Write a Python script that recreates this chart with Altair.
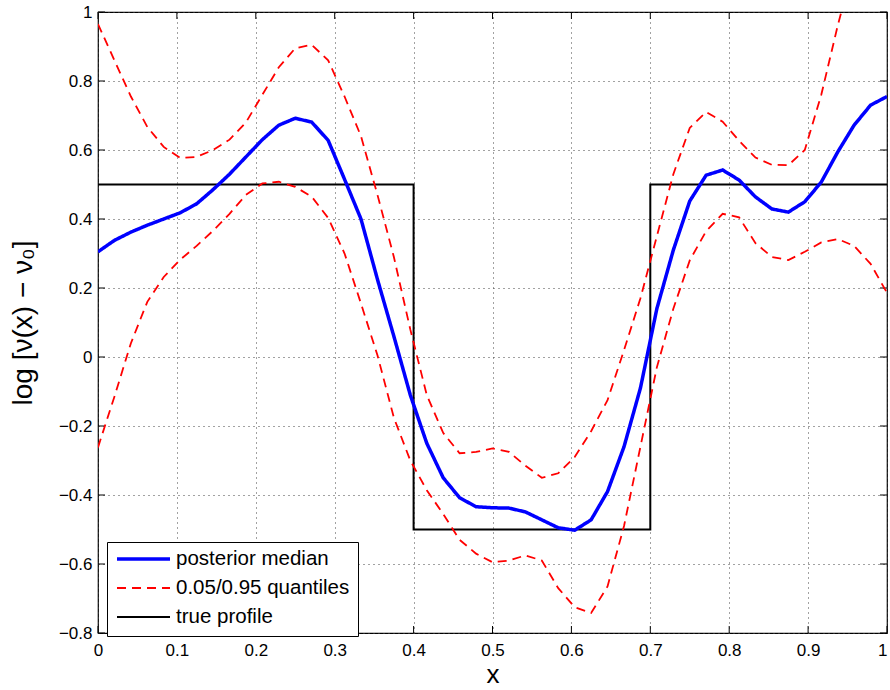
import altair as alt
import pandas as pd

# ---------------- data ----------------
x_grid = [0.0, 0.0208, 0.0417, 0.0625, 0.0833, 0.1042, 0.125, 0.1458, 0.1667, 0.1875,
          0.2083, 0.2292, 0.25, 0.2708, 0.2917, 0.3125, 0.3333, 0.3542, 0.375, 0.3958,
          0.4167, 0.4375, 0.4583, 0.4792, 0.5, 0.5208, 0.5417, 0.5625, 0.5833, 0.6042,
          0.625, 0.6458, 0.6667, 0.6875, 0.7083, 0.7292, 0.75, 0.7708, 0.7917, 0.8125,
          0.8333, 0.8542, 0.875, 0.8958, 0.9167, 0.9375, 0.9583, 0.9792, 1.0]

median = [0.305, 0.338, 0.362, 0.382, 0.400, 0.418, 0.444, 0.485, 0.530, 0.580,
          0.630, 0.672, 0.692, 0.681, 0.628, 0.515, 0.400, 0.225, 0.060, -0.110,
          -0.250, -0.350, -0.408, -0.434, -0.437, -0.438, -0.449, -0.472, -0.495, -0.502,
          -0.472, -0.390, -0.260, -0.090, 0.140, 0.310, 0.452, 0.527, 0.542, 0.513,
          0.464, 0.429, 0.420, 0.450, 0.507, 0.594, 0.672, 0.730, 0.755]

upper = [0.965, 0.860, 0.755, 0.667, 0.609, 0.577, 0.580, 0.600, 0.630, 0.680,
         0.760, 0.840, 0.895, 0.905, 0.860, 0.755, 0.640, 0.470, 0.290, 0.080,
         -0.110, -0.220, -0.279, -0.275, -0.265, -0.275, -0.315, -0.350, -0.337, -0.290,
         -0.215, -0.125, 0.020, 0.170, 0.350, 0.530, 0.664, 0.710, 0.682, 0.627,
         0.578, 0.557, 0.556, 0.600, 0.760, 0.960, 1.140, 1.300, 1.450]

lower = [-0.262, -0.115, 0.040, 0.160, 0.232, 0.282, 0.322, 0.366, 0.415, 0.470,
         0.503, 0.508, 0.493, 0.465, 0.403, 0.300, 0.155, 0.005, -0.176, -0.300,
         -0.386, -0.455, -0.530, -0.570, -0.595, -0.590, -0.575, -0.590, -0.670, -0.725,
         -0.742, -0.665, -0.490, -0.260, -0.030, 0.140, 0.280, 0.365, 0.415, 0.405,
         0.330, 0.290, 0.281, 0.305, 0.332, 0.342, 0.322, 0.270, 0.186]

true_x = [0.0, 0.4, 0.4, 0.7, 0.7, 1.0]
true_y = [0.5, 0.5, -0.5, -0.5, 0.5, 0.5]

x_ticks = [0.0, 0.1, 0.2, 0.3, 0.4, 0.5, 0.6, 0.7, 0.8, 0.9, 1.0]
y_ticks = [-0.8, -0.6, -0.4, -0.2, 0.0, 0.2, 0.4, 0.6, 0.8, 1.0]

SERIES = ["posterior median", "0.05/0.95 quantiles", "true profile"]
COLORS = ["#0000ff", "#ff0000", "#000000"]
DASHES = [[1, 0], [9, 6], [1, 0]]
WIDTHS = [3.5, 1.8, 2.0]

# ---------------- build table ----------------
rows = []
for i, (x, y) in enumerate(zip(x_grid, median)):
    rows.append({"x": x, "y": y, "series": SERIES[0], "part": "median", "order": i})
for i, (x, y) in enumerate(zip(x_grid, upper)):
    rows.append({"x": x, "y": y, "series": SERIES[1], "part": "upper", "order": i})
for i, (x, y) in enumerate(zip(x_grid, lower)):
    rows.append({"x": x, "y": y, "series": SERIES[1], "part": "lower", "order": i})
for i, (x, y) in enumerate(zip(true_x, true_y)):
    rows.append({"x": x, "y": y, "series": SERIES[2], "part": "true", "order": i})
df = pd.DataFrame(rows)

W, H = 789, 621
FONT = "Liberation Sans"
TICK = 7

xscale = alt.Scale(domain=[0, 1], nice=False, zero=False)
yscale = alt.Scale(domain=[-0.8, 1], nice=False, zero=False)

xaxis = alt.Axis(values=x_ticks, format="~g", title="x", labelFlush=False,
                 labelOverlap=False, labelPadding=9, titlePadding=3,
                 titleFontSize=26,
                 labelAlign=alt.ExprRef("datum.value >= 1 ? 'right' : 'center'"))
yaxis = alt.Axis(values=y_ticks, format="~g", title="log [ν(x) − ν₀]",
                 labelFlush=False, labelOverlap=False, labelPadding=6,
                 titlePadding=21, titleFontSize=28)

legend = alt.Legend(title=None, orient="none", legendX=9, legendY=530,
                    symbolType="stroke", symbolSize=2809, clipHeight=18,
                    rowPadding=8, padding=8, labelOffset=4, labelLimit=400,
                    labelFont=FONT, labelFontSize=20.5, labelColor="black",
                    strokeColor="black", fillColor="white")

enc = dict(
    x=alt.X("x:Q", scale=xscale, axis=xaxis),
    y=alt.Y("y:Q", scale=yscale, axis=yaxis),
    color=alt.Color("series:N", scale=alt.Scale(domain=SERIES, range=COLORS), legend=legend),
    strokeDash=alt.StrokeDash("series:N", scale=alt.Scale(domain=SERIES, range=DASHES), legend=legend),
    strokeWidth=alt.StrokeWidth("series:N", scale=alt.Scale(type="ordinal", domain=SERIES, range=WIDTHS), legend=legend),
    detail="part:N",
    order="order:Q",
)

base = alt.Chart(df)
true_layer = base.transform_filter(alt.datum.part == "true").mark_line(clip=True).encode(**enc)
quant_layer = base.transform_filter((alt.datum.part == "upper") | (alt.datum.part == "lower")).mark_line(clip=True).encode(**enc)
med_layer = base.transform_filter(alt.datum.part == "median").mark_line(clip=True).encode(**enc)

# inward tick marks on all four sides (MATLAB style box)
xt = pd.DataFrame({"x": x_ticks})
yt = pd.DataFrame({"y": y_ticks})
tick_bottom = alt.Chart(xt).mark_rule(color="black", strokeWidth=1).encode(
    x=alt.X("x:Q", scale=xscale, axis=xaxis), y=alt.value(H), y2=alt.value(H - TICK))
tick_top = alt.Chart(xt).mark_rule(color="black", strokeWidth=1).encode(
    x=alt.X("x:Q", scale=xscale, axis=xaxis), y=alt.value(0), y2=alt.value(TICK))
tick_left = alt.Chart(yt).mark_rule(color="black", strokeWidth=1).encode(
    y=alt.Y("y:Q", scale=yscale, axis=yaxis), x=alt.value(0), x2=alt.value(TICK))
tick_right = alt.Chart(yt).mark_rule(color="black", strokeWidth=1).encode(
    y=alt.Y("y:Q", scale=yscale, axis=yaxis), x=alt.value(W), x2=alt.value(W - TICK))

chart = alt.layer(
    tick_bottom, tick_top, tick_left, tick_right,
    true_layer, quant_layer, med_layer,
).properties(
    width=W, height=H,
    background="white",
    autosize=alt.AutoSizeParams(type="none"),
    padding={"left": 98, "top": 12, "right": 3, "bottom": 57},
).configure_view(
    stroke="black", strokeWidth=1.2
).configure_axis(
    labelFont=FONT, labelFontSize=17, labelColor="black",
    titleFont=FONT, titleFontWeight="normal", titleColor="black",
    grid=True, gridColor="#444444", gridDash=[1, 4], gridWidth=1, gridOpacity=1,
    ticks=False, domain=False,
)

chart.save("out.html", embed_options={"renderer": "svg", "actions": False})
